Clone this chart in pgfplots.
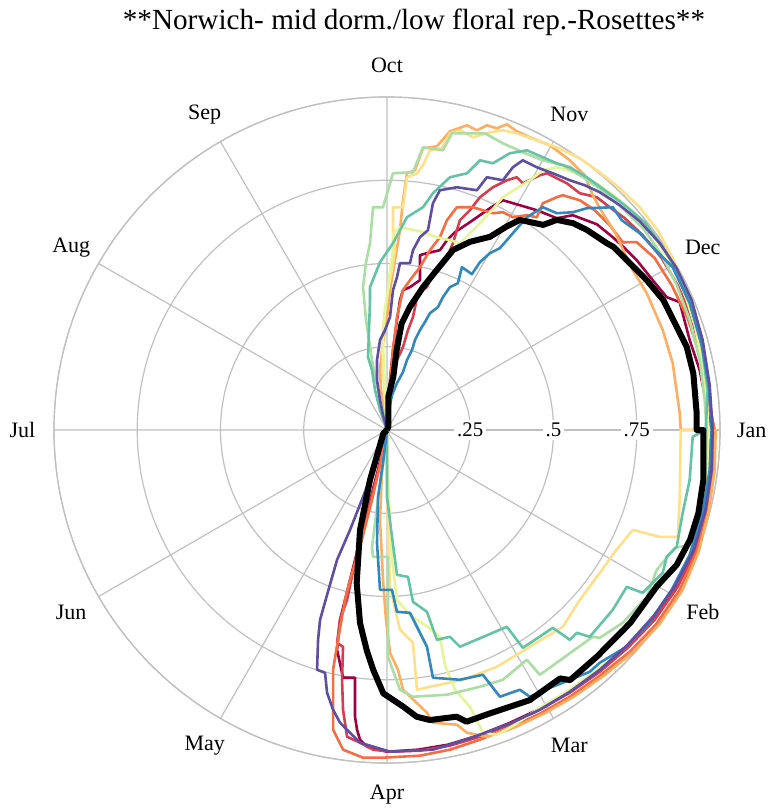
\documentclass[border=0pt]{standalone}
\usepackage{pgfplots}
\pgfplotsset{compat=1.18}
\usepgfplotslibrary{polar}
\usepackage{fontspec}
\setmainfont{Liberation Serif}

% Spectral palette
\definecolor{spA}{HTML}{9E0142}
\definecolor{spB}{HTML}{D53E4F}
\definecolor{spC}{HTML}{F46D43}
\definecolor{spD}{HTML}{FDAE61}
\definecolor{spE}{HTML}{FEE08B}
\definecolor{spG}{HTML}{E6F598}
\definecolor{spH}{HTML}{ABDDA4}
\definecolor{spI}{HTML}{66C2A5}
\definecolor{spJ}{HTML}{3288BD}
\definecolor{spK}{HTML}{5E4FA2}
\definecolor{gridgray}{RGB}{192,192,192}

\tikzset{
  rlab/.style={fill=white, inner sep=1.5pt, font=\fontsize{10.4}{12}\selectfont},
  mlab/.style={font=\fontsize{11}{13}\selectfont},
}

\begin{document}
\begin{tikzpicture}
\useasboundingbox (-193.5pt,-189pt) rectangle (194.5pt,215pt);
\begin{polaraxis}[
  at={(0,0)}, anchor=center,
  scale only axis, width=333pt, height=333pt,
  xmin=0, xmax=360, ymin=0, ymax=1,
  xtick={0,30,...,330}, xticklabels={},
  ytick={0.25,0.5,0.75,1}, yticklabels={},
  grid=major,
  major grid style={draw=gridgray, line width=0.6pt},
  axis line style={draw=gridgray, line width=0.6pt},
  major tick length=0pt,
  clip=false,
  every axis plot/.append style={line join=round, line width=1.3pt},
]
% series (x,y) in units of the outer ring radius
\addplot[data cs=cart, spA] coordinates {
(0,0) (0.003,0.060) (0.009,0.150) (0.018,0.240) (0.030,0.330) (0.039,0.390) (0.048,0.420)
(0.069,0.429) (0.099,0.450) (0.099,0.525) (0.120,0.531) (0.159,0.540) (0.180,0.570) (0.204,0.594)
(0.249,0.624) (0.309,0.666) (0.348,0.690) (0.399,0.675) (0.450,0.660) (0.510,0.636) (0.558,0.645)
(0.630,0.618) (0.678,0.579) (0.714,0.546) (0.750,0.510) (0.798,0.450) (0.840,0.399) (0.879,0.384)
(0.909,0.270) (0.939,0.180) (0.957,0.090) (0.972,0.000) (0.969,-0.120) (0.951,-0.240) (0.918,-0.360)
(0.867,-0.468) (0.798,-0.570) (0.720,-0.654) (0.633,-0.726) (0.543,-0.786) (0.453,-0.840)
(0.363,-0.882) (0.273,-0.918) (0.183,-0.945) (0.093,-0.960) (0.000,-0.966) (-0.060,-0.951)
(-0.081,-0.930) (-0.090,-0.900) (-0.096,-0.861) (-0.096,-0.744) (-0.132,-0.744) (-0.150,-0.660)
(-0.141,-0.570) (-0.111,-0.450) (-0.066,-0.270) (-0.027,-0.120) (0,0)
};
\addplot[data cs=cart, spB] coordinates {
(0,0) (0.003,0.060) (0.003,0.099) (0.018,0.165) (0.030,0.210) (0.048,0.249) (0.063,0.300)
(0.078,0.339) (0.093,0.411) (0.120,0.429) (0.144,0.480) (0.180,0.519) (0.198,0.561) (0.219,0.630)
(0.249,0.660) (0.279,0.699) (0.318,0.729) (0.360,0.750) (0.390,0.759) (0.408,0.741) (0.459,0.765)
(0.480,0.771) (0.540,0.741) (0.579,0.711) (0.630,0.699) (0.669,0.669) (0.714,0.636) (0.768,0.585)
(0.825,0.516) (0.873,0.435) (0.915,0.336) (0.945,0.225) (0.966,0.105) (0.981,0.000) (0.978,-0.120)
(0.960,-0.240) (0.927,-0.360) (0.873,-0.471) (0.804,-0.570) (0.723,-0.654) (0.639,-0.726)
(0.549,-0.789) (0.459,-0.840) (0.369,-0.885) (0.279,-0.921) (0.189,-0.948) (0.099,-0.963)
(0.009,-0.966) (-0.042,-0.960) (-0.081,-0.939) (-0.120,-0.921) (-0.132,-0.840) (-0.135,-0.750)
(-0.132,-0.651) (-0.150,-0.639) (-0.141,-0.570) (-0.120,-0.510) (-0.090,-0.369) (-0.051,-0.219)
(-0.021,-0.105) (0,0)
};
\addplot[data cs=cart, spC] coordinates {
(0,0) (0.003,0.060) (0.009,0.141) (0.018,0.240) (0.030,0.339) (0.048,0.420) (0.069,0.450)
(0.099,0.489) (0.129,0.540) (0.159,0.579) (0.180,0.630) (0.210,0.669) (0.258,0.669) (0.288,0.660)
(0.318,0.651) (0.348,0.654) (0.378,0.639) (0.420,0.645) (0.450,0.639) (0.468,0.681) (0.510,0.699)
(0.528,0.705) (0.579,0.690) (0.624,0.660) (0.669,0.615) (0.708,0.564) (0.750,0.564) (0.804,0.516)
(0.855,0.435) (0.903,0.336) (0.939,0.225) (0.963,0.105) (0.984,0.000) (0.981,-0.120) (0.963,-0.246)
(0.930,-0.366) (0.879,-0.480) (0.807,-0.585) (0.729,-0.666) (0.639,-0.738) (0.549,-0.801)
(0.459,-0.852) (0.369,-0.894) (0.279,-0.930) (0.189,-0.960) (0.099,-0.978) (-0.012,-0.984)
(-0.072,-0.984) (-0.132,-0.960) (-0.162,-0.900) (-0.162,-0.810) (-0.162,-0.720) (-0.147,-0.630)
(-0.126,-0.510) (-0.111,-0.450) (-0.081,-0.351) (-0.045,-0.210) (-0.021,-0.105) (0,0)
};
\addplot[data cs=cart, spD] coordinates {
(0,0) (-0.009,0.060) (-0.018,0.120) (-0.021,0.180) (-0.015,0.240) (-0.006,0.300) (0.003,0.360)
(0.009,0.420) (0.024,0.510) (0.039,0.600) (0.048,0.690) (0.060,0.771) (0.084,0.780) (0.108,0.846)
(0.150,0.852) (0.189,0.897) (0.240,0.915) (0.270,0.900) (0.300,0.915) (0.330,0.906) (0.360,0.918)
(0.390,0.897) (0.429,0.879) (0.489,0.855) (0.549,0.810) (0.594,0.765) (0.618,0.705) (0.639,0.666)
(0.684,0.594) (0.738,0.480) (0.780,0.411) (0.828,0.300) (0.858,0.201) (0.879,0.051) (0.882,0.000)
(0.987,0.000) (0.984,-0.120) (0.966,-0.246) (0.936,-0.366) (0.888,-0.480) (0.819,-0.582)
(0.741,-0.666) (0.651,-0.738) (0.561,-0.801) (0.471,-0.852) (0.381,-0.894) (0.339,-0.909)
(0.300,-0.921) (0.240,-0.909) (0.210,-0.885) (0.138,-0.879) (0.120,-0.849) (0.048,-0.780)
(0.033,-0.720) (0.009,-0.669) (-0.003,-0.570) (-0.012,-0.450) (-0.021,-0.270) (-0.015,-0.120) (0,0)
};
\addplot[data cs=cart, spE] coordinates {
(0,0) (-0.006,0.090) (-0.012,0.180) (-0.015,0.270) (-0.006,0.360) (0.003,0.420) (0.015,0.480)
(0.024,0.540) (0.018,0.600) (0.018,0.669) (0.048,0.669) (0.060,0.759) (0.090,0.771) (0.108,0.795)
(0.129,0.840) (0.165,0.846) (0.189,0.891) (0.219,0.900) (0.258,0.879) (0.309,0.894) (0.348,0.900)
(0.390,0.891) (0.450,0.870) (0.510,0.849) (0.579,0.816) (0.639,0.774) (0.699,0.726) (0.759,0.669)
(0.813,0.600) (0.858,0.516) (0.900,0.420) (0.930,0.315) (0.951,0.195) (0.960,0.090) (0.963,0.000)
(0.882,0.000) (0.879,-0.210) (0.873,-0.321) (0.819,-0.321) (0.738,-0.300) (0.684,-0.366)
(0.639,-0.429) (0.579,-0.510) (0.528,-0.591) (0.429,-0.651) (0.330,-0.711) (0.228,-0.750)
(0.129,-0.771) (0.090,-0.780) (0.078,-0.639) (0.039,-0.600) (0.009,-0.471) (0.003,-0.300)
(0.000,-0.150) (0,0)
};
\addplot[data cs=cart, spG] coordinates {
(0,0) (-0.003,0.090) (-0.009,0.180) (-0.012,0.270) (-0.006,0.360) (0.003,0.420) (0.009,0.480)
(0.018,0.540) (0.018,0.591) (0.039,0.609) (0.099,0.597) (0.150,0.579) (0.189,0.570) (0.219,0.561)
(0.249,0.591) (0.279,0.621) (0.315,0.660) (0.348,0.699) (0.390,0.726) (0.429,0.750) (0.468,0.780)
(0.510,0.789) (0.564,0.774) (0.624,0.744) (0.684,0.702) (0.744,0.651) (0.798,0.585) (0.849,0.510)
(0.891,0.420) (0.924,0.315) (0.948,0.195) (0.960,0.090) (0.966,0.000) (0.963,-0.120) (0.948,-0.240)
(0.918,-0.354) (0.870,-0.459) (0.804,-0.555) (0.723,-0.645) (0.639,-0.714) (0.549,-0.780)
(0.459,-0.834) (0.384,-0.885) (0.330,-0.915) (0.288,-0.909) (0.249,-0.831) (0.204,-0.780)
(0.174,-0.705) (0.159,-0.621) (0.114,-0.585) (0.069,-0.555) (0.030,-0.510) (0.015,-0.390)
(0.006,-0.210) (0.000,-0.090) (0,0)
};
\addplot[data cs=cart, spH] coordinates {
(0,0) (-0.009,0.051) (-0.027,0.120) (-0.045,0.210) (-0.063,0.330) (-0.072,0.429) (-0.063,0.504)
(-0.051,0.561) (-0.042,0.669) (-0.012,0.669) (0.018,0.771) (0.078,0.774) (0.108,0.849) (0.168,0.840)
(0.195,0.891) (0.249,0.891) (0.294,0.891) (0.348,0.861) (0.408,0.834) (0.468,0.810) (0.528,0.795)
(0.594,0.756) (0.654,0.714) (0.714,0.660) (0.774,0.600) (0.825,0.525) (0.870,0.435) (0.909,0.330)
(0.939,0.210) (0.954,0.090) (0.960,0.000) (0.957,-0.120) (0.939,-0.240) (0.909,-0.345)
(0.864,-0.354) (0.810,-0.420) (0.780,-0.501) (0.708,-0.579) (0.639,-0.624) (0.618,-0.621)
(0.459,-0.735) (0.420,-0.690) (0.348,-0.750) (0.279,-0.771) (0.180,-0.795) (0.078,-0.801)
(0.039,-0.780) (0.003,-0.681) (0.003,-0.381) (-0.042,-0.381) (-0.045,-0.351) (-0.027,-0.210)
(-0.006,-0.060) (0,0)
};
\addplot[data cs=cart, spI] coordinates {
(0,0) (-0.021,0.060) (-0.036,0.120) (-0.045,0.180) (-0.057,0.219) (-0.054,0.300) (-0.051,0.390)
(-0.051,0.429) (-0.021,0.504) (0.018,0.561) (0.060,0.639) (0.108,0.669) (0.138,0.711) (0.189,0.759)
(0.240,0.771) (0.279,0.810) (0.318,0.801) (0.369,0.831) (0.420,0.840) (0.468,0.819) (0.510,0.801)
(0.549,0.789) (0.600,0.759) (0.654,0.720) (0.714,0.675) (0.774,0.624) (0.825,0.555) (0.873,0.474)
(0.915,0.375) (0.945,0.255) (0.963,0.120) (0.957,0.000) (0.939,-0.009) (0.918,-0.021) (0.909,-0.150)
(0.888,-0.249) (0.870,-0.351) (0.840,-0.381) (0.828,-0.429) (0.768,-0.489) (0.720,-0.471)
(0.678,-0.540) (0.609,-0.621) (0.570,-0.609) (0.549,-0.630) (0.498,-0.594) (0.408,-0.654)
(0.360,-0.591) (0.219,-0.651) (0.189,-0.621) (0.150,-0.630) (0.120,-0.546) (0.078,-0.516)
(0.063,-0.441) (0.030,-0.435) (0.015,-0.321) (0.000,-0.201) (0,0)
};
\addplot[data cs=cart, spJ] coordinates {
(0,0) (0.006,0.060) (0.015,0.105) (0.030,0.141) (0.048,0.174) (0.060,0.210) (0.075,0.240)
(0.084,0.270) (0.099,0.300) (0.114,0.324) (0.129,0.351) (0.153,0.369) (0.168,0.399) (0.189,0.429)
(0.213,0.441) (0.225,0.489) (0.255,0.468) (0.279,0.504) (0.309,0.531) (0.339,0.546) (0.378,0.591)
(0.420,0.639) (0.468,0.669) (0.510,0.651) (0.558,0.654) (0.600,0.666) (0.678,0.669) (0.705,0.630)
(0.759,0.591) (0.807,0.540) (0.858,0.489) (0.909,0.381) (0.945,0.255) (0.966,0.135) (0.975,0.000)
(0.969,-0.120) (0.948,-0.246) (0.909,-0.375) (0.855,-0.480) (0.789,-0.576) (0.714,-0.654)
(0.639,-0.699) (0.609,-0.726) (0.528,-0.759) (0.474,-0.780) (0.429,-0.801) (0.399,-0.780)
(0.339,-0.801) (0.288,-0.735) (0.219,-0.750) (0.138,-0.744) (0.120,-0.651) (0.069,-0.549)
(0.030,-0.546) (0.015,-0.480) (-0.021,-0.480) (-0.030,-0.339) (-0.027,-0.201) (-0.012,-0.099) (0,0)
};
\addplot[data cs=cart, spK] coordinates {
(0,0) (-0.012,0.045) (-0.021,0.090) (-0.030,0.150) (-0.030,0.210) (-0.021,0.270) (-0.006,0.300)
(0.009,0.339) (0.018,0.420) (0.030,0.459) (0.039,0.501) (0.069,0.501) (0.078,0.540) (0.099,0.579)
(0.123,0.600) (0.138,0.681) (0.159,0.720) (0.210,0.729) (0.270,0.720) (0.300,0.759) (0.348,0.750)
(0.378,0.789) (0.408,0.810) (0.450,0.789) (0.498,0.771) (0.549,0.750) (0.594,0.735) (0.639,0.714)
(0.699,0.675) (0.759,0.627) (0.819,0.561) (0.870,0.486) (0.915,0.390) (0.948,0.270) (0.969,0.135)
(0.978,0.000) (0.975,-0.120) (0.957,-0.240) (0.921,-0.360) (0.867,-0.465) (0.804,-0.555)
(0.723,-0.645) (0.639,-0.720) (0.549,-0.786) (0.459,-0.840) (0.369,-0.882) (0.279,-0.915)
(0.189,-0.945) (0.138,-0.960) (0.009,-0.966) (-0.081,-0.939) (-0.111,-0.909) (-0.141,-0.879)
(-0.162,-0.840) (-0.180,-0.789) (-0.186,-0.729) (-0.210,-0.720) (-0.207,-0.630) (-0.201,-0.570)
(-0.180,-0.495) (-0.150,-0.390) (-0.111,-0.300) (-0.072,-0.201) (-0.036,-0.105) (0,0)
};
% mean curve
\addplot[data cs=cart, black, line width=3pt] coordinates {
(0,0) (0.004,0.010) (0.004,0.100) (0.019,0.160) (0.029,0.240) (0.044,0.320) (0.069,0.370)
(0.109,0.430) (0.149,0.480) (0.199,0.541) (0.249,0.565) (0.309,0.580) (0.359,0.611) (0.399,0.631)
(0.469,0.616) (0.510,0.631) (0.559,0.621) (0.600,0.601) (0.660,0.561) (0.680,0.550) (0.740,0.490)
(0.780,0.450) (0.830,0.390) (0.860,0.330) (0.900,0.250) (0.920,0.170) (0.930,0.050) (0.930,0.000)
(0.950,0.000) (0.950,-0.150) (0.935,-0.250) (0.910,-0.330) (0.870,-0.405) (0.810,-0.470)
(0.730,-0.580) (0.630,-0.681) (0.550,-0.751) (0.520,-0.746) (0.429,-0.811) (0.309,-0.851)
(0.239,-0.876) (0.209,-0.861) (0.129,-0.871) (0.089,-0.861) (0.049,-0.831) (-0.011,-0.791)
(-0.041,-0.721) (-0.061,-0.661) (-0.081,-0.580) (-0.091,-0.460) (-0.081,-0.300) (-0.051,-0.150)
(-0.011,-0.010) (0,0)
};
% radial tick labels on the 0 degree spoke
\node[rlab] at (axis cs:0,0.25) {.25};
\node[rlab] at (axis cs:0,0.5) {.5};
\node[rlab] at (axis cs:0,0.75) {.75};
% month labels
\node[mlab] at (axis cs:90,1.095) {Oct};
\node[mlab] at (axis cs:60,1.095) {Nov};
\node[mlab] at (axis cs:30,1.095) {Dec};
\node[mlab] at (axis cs:0,1.095) {Jan};
\node[mlab] at (axis cs:330,1.095) {Feb};
\node[mlab] at (axis cs:300,1.095) {Mar};
\node[mlab] at (axis cs:270,1.095) {Apr};
\node[mlab] at (axis cs:240,1.095) {May};
\node[mlab] at (axis cs:210,1.095) {Jun};
\node[mlab] at (axis cs:180,1.095) {Jul};
\node[mlab] at (axis cs:150,1.095) {Aug};
\node[mlab] at (axis cs:120,1.095) {Sep};
\end{polaraxis}
\node[font=\fontsize{14.6}{17}\selectfont] at (13.5pt,204pt) {**Norwich- mid dorm./low floral rep.-Rosettes**};
\end{tikzpicture}
\end{document}
